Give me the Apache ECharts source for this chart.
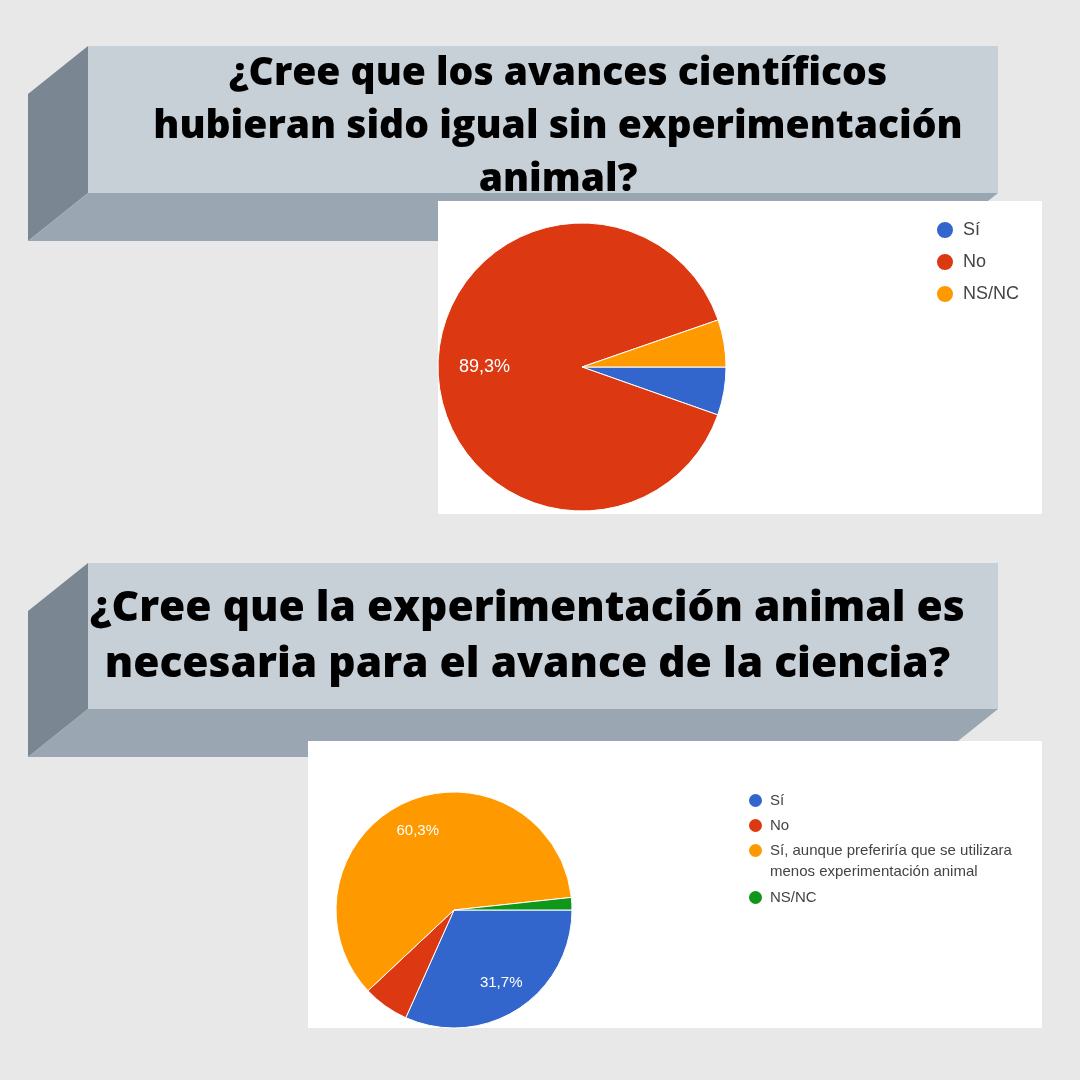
<!DOCTYPE html>
<html>
<head>
<meta charset="utf-8">
<title>Experimentación animal</title>
<script src="https://cdn.jsdelivr.net/npm/echarts@6/dist/echarts.min.js"></script>
<style>
  html, body { margin: 0; padding: 0; background: #e8e8e8; }
  #chart { width: 1080px; height: 1080px; }
</style>
</head>
<body>
<div id="chart"></div>
<script>
// encuesta 1
var question1 = "¿Cree que los avances científicos\nhubieran sido igual sin experimentación\nanimal?";
var categories1 = ["Sí", "No", "NS/NC"];
var values1 = [5.4, 89.3, 5.3];

// encuesta 2
var question2 = "¿Cree que la experimentación animal es \nnecesaria para el avance de la ciencia? ";
var categories2 = ["Sí", "No", "Sí, aunque preferiría que se utilizara menos experimentación animal", "NS/NC"];
var values2 = [31.7, 6.3, 60.3, 1.7];

var colors = ["#3366cc", "#dc3912", "#ff9900", "#109618"];

(function () {
  var el = document.getElementById("chart");
  var chart = echarts.init(el);

  var faceFront = "#c7cfd7";
  var faceSide = "#7a8691";
  var faceBottom = "#9aa6b1";
  var sans = "Liberation Sans, Arial, sans-serif";

  var pie1Center = [582, 367];
  var pie2Center = [454, 910];

  function banner(top, bottom, depthY) {
    return [
      { type: "polygon", z: 1, shape: { points: [[88, top], [28, top + depthY], [28, bottom + depthY], [88, bottom]] }, style: { fill: faceSide } },
      { type: "polygon", z: 1, shape: { points: [[88, bottom], [998, bottom], [938, bottom + depthY], [28, bottom + depthY]] }, style: { fill: faceBottom } },
      { type: "rect", z: 1, shape: { x: 88, y: top, width: 910, height: bottom - top }, style: { fill: faceFront } }
    ];
  }

  function pctLabel(p) {
    return p.value.toFixed(1).replace(".", ",") + "%";
  }

  // google-style labels sit further out than echarts' "inside" (half radius)
  function pushOut(center, k) {
    return function (params) {
      var r = params.labelRect;
      var lx = r.x + r.width / 2;
      var ly = r.y + r.height / 2;
      return { dx: (lx - center[0]) * k, dy: (ly - center[1]) * k };
    };
  }

  function pieData(names, vals) {
    return names.map(function (n, i) {
      return { name: n, value: vals[i], itemStyle: { color: colors[i] } };
    });
  }

  var graphics = [
    { type: "rect", z: 0, shape: { x: 0, y: 0, width: 1080, height: 1080 }, style: { fill: "#e8e8e8" } }
  ]
    .concat(banner(46, 193, 48))
    .concat(banner(563, 709, 48))
    .concat([
      { type: "rect", z: 2, shape: { x: 438, y: 201, width: 604, height: 313 }, style: { fill: "#ffffff" } },
      { type: "rect", z: 2, shape: { x: 308, y: 741, width: 734, height: 287 }, style: { fill: "#ffffff" } },
      {
        type: "text", z: 3,
        style: {
          text: question1, x: 558, y: 127, align: "center", verticalAlign: "middle",
          fontFamily: "Open Sans", fontWeight: 800, fontSize: 39, lineHeight: 53, fill: "#000000"
        }
      },
      {
        type: "text", z: 3,
        style: {
          text: question2, x: 533, y: 637, align: "center", verticalAlign: "middle",
          fontFamily: "Open Sans", fontWeight: 800, fontSize: 42.5, lineHeight: 56, fill: "#000000"
        }
      }
    ]);

  var legendText1 = { color: "#444", fontFamily: sans, fontSize: 18, lineHeight: 18, padding: [0, 0, 0, 4] };
  var legendText2 = { color: "#444", fontFamily: sans, fontSize: 15, lineHeight: 21, padding: [0, 0, 0, 2] };

  var legend2Tops = [790, 815, 819, 887];
  var legends = [
    {
      left: 935, top: 220, orient: "vertical", padding: 0, itemGap: 12,
      itemWidth: 18, itemHeight: 18, icon: "circle", selectedMode: false,
      data: categories1.map(function (n, i) {
        return { name: n, itemStyle: { color: [colors[0], colors[1], colors[2]][i] } };
      }),
      textStyle: legendText1
    }
  ];
  categories2.forEach(function (name, i) {
    var opt = {
      left: 747, top: legend2Tops[i], padding: 0, itemWidth: 15, itemHeight: 15,
      icon: "circle", selectedMode: false,
      data: [{ name: name, itemStyle: { color: colors[i] } }],
      textStyle: legendText2
    };
    if (i === 2) {
      // blank first line keeps the icon level with the first text line
      opt.formatter = function (n) { return "\n" + n.replace(" menos", "\nmenos"); };
    }
    legends.push(opt);
  });

  chart.setOption({
    animation: false,
    backgroundColor: "#e8e8e8",
    graphic: graphics,
    legend: legends,
    series: [
      {
        type: "pie",
        z: 5,
        silent: true,
        center: pie1Center,
        radius: 144,
        startAngle: 0,
        clockwise: true,
        avoidLabelOverlap: false,
        minShowLabelAngle: 30,
        itemStyle: { borderColor: "#ffffff", borderWidth: 1 },
        label: { position: "inside", color: "#ffffff", fontFamily: sans, fontSize: 18, formatter: pctLabel },
        labelLine: { show: false },
        labelLayout: pushOut(pie1Center, 0.3),
        emphasis: { disabled: true },
        data: pieData(categories1, values1)
      },
      {
        type: "pie",
        z: 5,
        silent: true,
        center: pie2Center,
        radius: 118,
        startAngle: 0,
        clockwise: true,
        avoidLabelOverlap: false,
        minShowLabelAngle: 30,
        itemStyle: { borderColor: "#ffffff", borderWidth: 1 },
        label: { position: "inside", color: "#ffffff", fontFamily: sans, fontSize: 15, formatter: pctLabel },
        labelLine: { show: false },
        labelLayout: pushOut(pie2Center, 0.4),
        emphasis: { disabled: true },
        data: pieData(categories2, values2)
      }
    ]
  });

  window.addEventListener("resize", function () {
    chart.resize();
  });
})();
</script>
</body>
</html>
